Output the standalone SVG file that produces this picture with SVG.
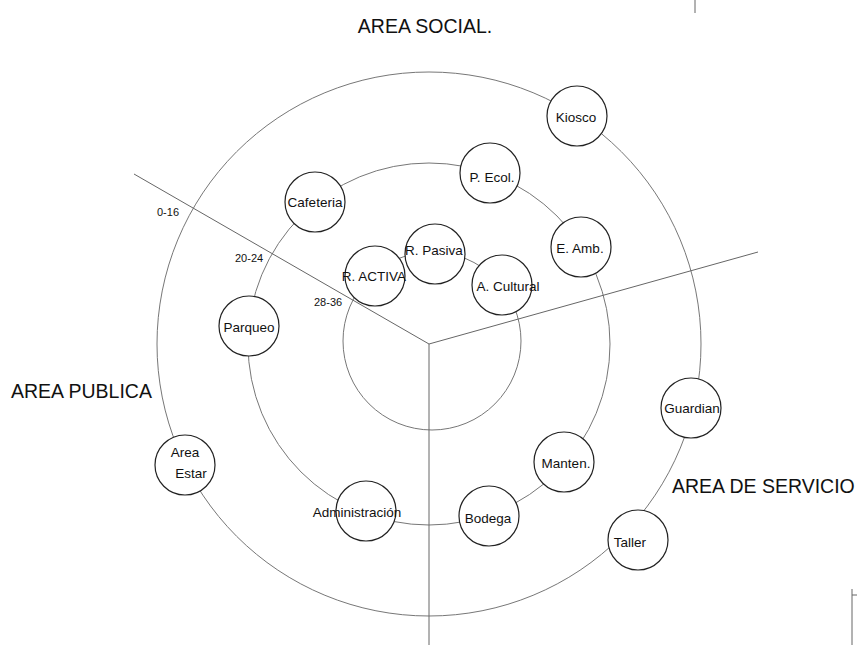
<svg xmlns="http://www.w3.org/2000/svg" width="857" height="645" viewBox="0 0 857 645">
<style>
.ring{fill:none;stroke:#777;stroke-width:1}
.ax{fill:none;stroke:#666;stroke-width:1}
.node circle{fill:#fff;stroke:#222;stroke-width:1.2}
.lbl{font-family:"Liberation Sans",Arial,sans-serif;font-size:13.5px;fill:#111;text-anchor:middle}
.area{font-family:"Liberation Sans",Arial,sans-serif;font-size:19.5px;fill:#111}
.num{font-family:"Liberation Sans",Arial,sans-serif;font-size:11px;fill:#111}
</style>
<rect width="857" height="645" fill="#fff"/>
<g id="connectors">
<circle class="ring" cx="429" cy="344" r="272"/>
<circle class="ring" cx="429" cy="344" r="181"/>
<circle class="ring" cx="432" cy="341" r="89"/>
<line class="ax" x1="429" y1="344" x2="429" y2="645"/>
<line class="ax" x1="429" y1="344" x2="134" y2="174"/>
<line class="ax" x1="429" y1="344" x2="758" y2="252"/>
<line class="ax" x1="695" y1="0" x2="695" y2="13"/>
<line class="ax" x1="852" y1="589" x2="852" y2="645"/>
<line class="ax" x1="852" y1="595" x2="857" y2="595"/>
</g>
<text class="area" x="425" y="33" text-anchor="middle">AREA SOCIAL.</text>
<text class="area" x="11" y="398">AREA PUBLICA</text>
<text class="area" x="672" y="493">AREA DE SERVICIO</text>
<text class="num" x="157" y="216">0-16</text>
<text class="num" x="235" y="262">20-24</text>
<text class="num" x="314" y="306">28-36</text>
<g id="kiosco" class="node"><circle cx="577" cy="116" r="30"/><text class="lbl" x="576" y="122">Kiosco</text></g>
<g id="p-ecol" class="node"><circle cx="490" cy="173" r="30"/><text class="lbl" x="492" y="182">P. Ecol.</text></g>
<g id="cafeteria" class="node"><circle cx="315" cy="202" r="30"/><text class="lbl" x="315" y="207">Cafeteria</text></g>
<g id="e-amb" class="node"><circle cx="581" cy="247" r="30"/><text class="lbl" x="580" y="253">E. Amb.</text></g>
<g id="r-activa" class="node"><circle cx="375" cy="276" r="30"/><text class="lbl" x="374" y="281">R. ACTIVA</text></g>
<g id="r-pasiva" class="node"><circle cx="435" cy="254" r="30"/><text class="lbl" x="434" y="255">R. Pasiva</text></g>
<g id="a-cultural" class="node"><circle cx="502" cy="285" r="30"/><text class="lbl" x="508" y="291">A. Cultural</text></g>
<g id="parqueo" class="node"><circle cx="249" cy="326" r="30"/><text class="lbl" x="249" y="332">Parqueo</text></g>
<g id="guardian" class="node"><circle cx="691" cy="408" r="30"/><text class="lbl" x="692" y="413">Guardian</text></g>
<g id="area-estar" class="node"><circle cx="185" cy="465" r="30"/><text class="lbl" x="185" y="457">Area</text><text class="lbl" x="191" y="478">Estar</text></g>
<g id="manten" class="node"><circle cx="564" cy="462" r="30"/><text class="lbl" x="566" y="468">Manten.</text></g>
<g id="administracion" class="node"><circle cx="366" cy="511" r="30"/><text class="lbl" x="357" y="517">Administración</text></g>
<g id="bodega" class="node"><circle cx="489" cy="516" r="30"/><text class="lbl" x="488" y="523">Bodega</text></g>
<g id="taller" class="node"><circle cx="638" cy="540" r="30"/><text class="lbl" x="630" y="547">Taller</text></g>
</svg>
